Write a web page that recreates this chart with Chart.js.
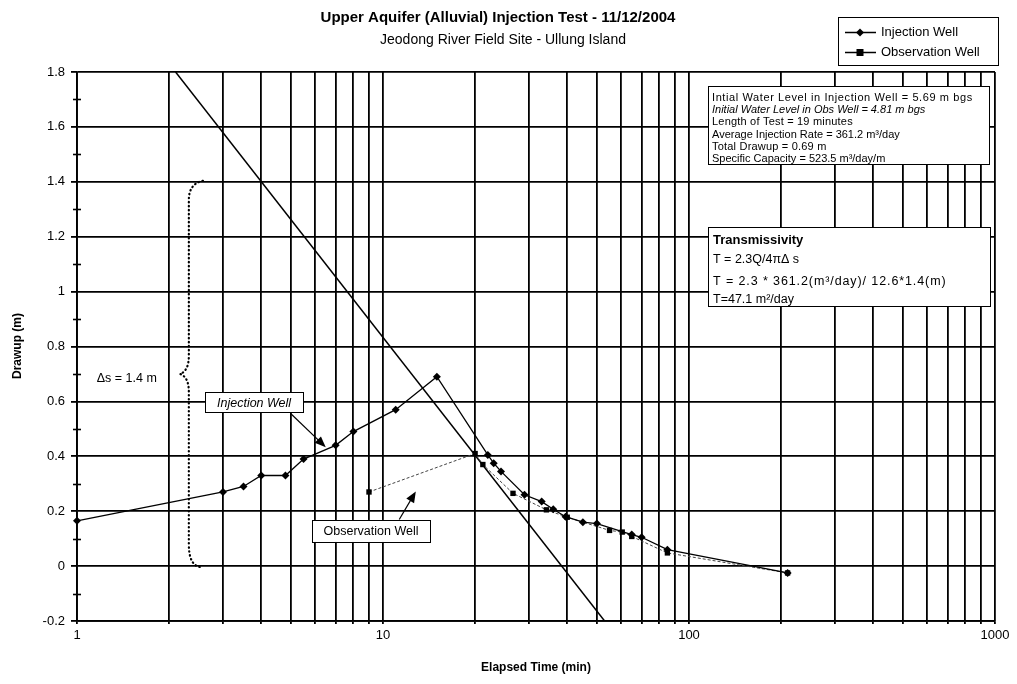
<!DOCTYPE html>
<html>
<head>
<meta charset="utf-8">
<title>Upper Aquifer (Alluvial) Injection Test</title>
<script src="https://cdn.jsdelivr.net/npm/chart.js@4.4.1/dist/chart.umd.min.js"></script>
<style>
  html, body { margin: 0; padding: 0; background: #fff; }
  #wrap { width: 1017px; height: 684px; }
</style>
</head>
<body>
<div id="wrap"><canvas id="chart" width="1017" height="684"></canvas></div>
<script>
// elapsed time (min) and drawup (m)
const injectionTime = [1, 3, 3.5, 4, 4.8, 5.5, 7, 8, 11, 15, 22, 23, 24.3, 29, 33, 36, 39.5, 45, 50, 65, 70, 85, 210];
const injectionDrawup = [0.165, 0.27, 0.29, 0.33, 0.33, 0.39, 0.44, 0.49, 0.57, 0.69, 0.405, 0.375, 0.345, 0.26, 0.235, 0.207, 0.18, 0.16, 0.155, 0.115, 0.105, 0.06, -0.025];
const observationTime = [9, 20, 21.2, 26.6, 34.2, 40, 55, 60.5, 65, 85, 210];
const observationDrawup = [0.27, 0.41, 0.37, 0.265, 0.205, 0.178, 0.13, 0.124, 0.108, 0.048, -0.025];

// straight line through the late data (delta s = 1.4 m per log cycle)
const fitTime = [2.1, 53];
const fitDrawup = [1.8, -0.2];

const xTickValues = [1, 2, 3, 4, 5, 6, 7, 8, 9, 10, 20, 30, 40, 50, 60, 70, 80, 90, 100, 200, 300, 400, 500, 600, 700, 800, 900, 1000];
const xTickLabels = { 1: '1', 10: '10', 100: '100', 1000: '1000' };
const yTickValues = [-0.2, 0, 0.2, 0.4, 0.6, 0.8, 1, 1.2, 1.4, 1.6, 1.8];
const yTickLabels = ['-0.2', '0', '0.2', '0.4', '0.6', '0.8', '1', '1.2', '1.4', '1.6', '1.8'];
const yMinorTicks = [-0.1, 0.1, 0.3, 0.5, 0.7, 0.9, 1.1, 1.3, 1.5, 1.7];

const infoLines = [
    'Intial Water Level in Injection Well = 5.69 m bgs',
    'Initial Water Level in Obs Well = 4.81 m bgs',
    'Length of Test = 19 minutes',
    'Average Injection Rate = 361.2 m\u00b3/day',
    'Total Drawup = 0.69 m',
    'Specific Capacity = 523.5 m\u00b3/day/m'
];
const transLines = [
    'Transmissivity',
    'T = 2.3Q/4\u03c0\u0394 s',
    'T = 2.3 * 361.2(m\u00b3/day)/ 12.6*1.4(m)',
    'T=47.1 m\u00b2/day'
];

const FONT = 'Arial, "Liberation Sans", sans-serif';

function toPoints(xs, ys) {
    return xs.map((x, i) => ({ x: x, y: ys[i] }));
}

function diamond(ctx, x, y, r) {
    ctx.beginPath();
    ctx.moveTo(x, y - r);
    ctx.lineTo(x + r, y);
    ctx.lineTo(x, y + r);
    ctx.lineTo(x - r, y);
    ctx.closePath();
    ctx.fill();
}

function arrow(ctx, x1, y1, x2, y2) {
    const a = Math.atan2(y2 - y1, x2 - x1);
    const len = 11, half = 4.5;
    ctx.beginPath();
    ctx.moveTo(x1, y1);
    ctx.lineTo(x2 - Math.cos(a) * len * 0.6, y2 - Math.sin(a) * len * 0.6);
    ctx.stroke();
    ctx.beginPath();
    ctx.moveTo(x2, y2);
    ctx.lineTo(x2 - Math.cos(a) * len - Math.sin(a) * half, y2 - Math.sin(a) * len + Math.cos(a) * half);
    ctx.lineTo(x2 - Math.cos(a) * len + Math.sin(a) * half, y2 - Math.sin(a) * len - Math.cos(a) * half);
    ctx.closePath();
    ctx.fill();
}

function spacedText(ctx, text, x, y, spacing) {
    ctx.save();
    ctx.letterSpacing = spacing + 'px';
    ctx.fillText(text, x, y);
    ctx.restore();
}

function labelBox(ctx, text, cx, cy, font, w, h) {
    ctx.fillStyle = '#fff';
    ctx.fillRect(cx - w / 2, cy - h / 2, w, h);
    ctx.strokeRect(Math.round(cx - w / 2) + 0.5, Math.round(cy - h / 2) + 0.5, w, h);
    ctx.fillStyle = '#000';
    ctx.font = font;
    ctx.textAlign = 'center';
    ctx.textBaseline = 'middle';
    ctx.fillText(text, cx, cy + 1);
}

const extras = {
    id: 'extras',
    afterDraw(chart) {
        const ctx = chart.ctx;
        const xs = chart.scales.x, ys = chart.scales.y;
        const px = v => xs.getPixelForValue(v);
        const py = v => ys.getPixelForValue(v);
        const area = chart.chartArea;
        ctx.save();
        ctx.strokeStyle = '#000';
        ctx.fillStyle = '#000';

        // minor ticks on the drawup axis
        ctx.lineWidth = 1.6;
        yMinorTicks.forEach(v => {
            const y = Math.round(py(v)) + 0.5;
            ctx.beginPath();
            ctx.moveTo(area.left - 4, y);
            ctx.lineTo(area.left + 4, y);
            ctx.stroke();
        });

        // titles
        ctx.textAlign = 'center';
        ctx.textBaseline = 'alphabetic';
        ctx.font = 'bold 15px ' + FONT;
        ctx.fillText('Upper Aquifer (Alluvial) Injection Test - 11/12/2004', 498, 22);
        ctx.font = '14px ' + FONT;
        ctx.fillText('Jeodong River Field Site - Ullung Island', 503, 44);

        ctx.font = 'bold 12px ' + FONT;
        ctx.fillText('Elapsed Time (min)', (area.left + area.right) / 2, 671);
        ctx.save();
        ctx.translate(21, 346);
        ctx.rotate(-Math.PI / 2);
        ctx.fillText('Drawup (m)', 0, 0);
        ctx.restore();

        // dotted brace for delta s
        const yTop = py(1.4), yBot = py(0), yMid = (yTop + yBot) / 2;
        const spine = px(2.32), tip = px(2.17);
        ctx.save();
        ctx.lineWidth = 2.2;
        ctx.lineCap = 'round';
        ctx.setLineDash([0.5, 3.5]);
        ctx.beginPath();
        ctx.moveTo(px(2.58), yTop - 1);
        ctx.quadraticCurveTo(spine, yTop + 2, spine, yTop + 18);
        ctx.lineTo(spine, yMid - 18);
        ctx.quadraticCurveTo(spine, yMid - 3, tip, yMid);
        ctx.quadraticCurveTo(spine, yMid + 3, spine, yMid + 18);
        ctx.lineTo(spine, yBot - 22);
        ctx.quadraticCurveTo(spine, yBot, px(2.54), yBot + 1);
        ctx.stroke();
        ctx.restore();

        ctx.font = '12.5px ' + FONT;
        ctx.textAlign = 'left';
        ctx.textBaseline = 'middle';
        ctx.fillText('\u0394s = 1.4 m', px(1.16), py(0.685));

        // callouts
        ctx.lineWidth = 1.2;
        arrow(ctx, px(5.0), py(0.555), px(6.5), py(0.433));
        arrow(ctx, px(11.3), py(0.17), px(12.8), py(0.272));
        ctx.lineWidth = 1;
        labelBox(ctx, 'Injection Well', px(3.79), py(0.597), 'italic 12.5px ' + FONT, 98, 20);
        labelBox(ctx, 'Observation Well', px(9.14), py(0.128), '12.5px ' + FONT, 118, 22);

        // info box
        ctx.lineWidth = 1;
        ctx.fillStyle = '#fff';
        ctx.fillRect(708, 86, 281, 78);
        ctx.strokeRect(708.5, 86.5, 281, 78);
        ctx.fillStyle = '#000';
        ctx.textAlign = 'left';
        ctx.textBaseline = 'alphabetic';
        const infoSpacing = [0.6, 0, 0.2, 0, 0.2, 0];
        infoLines.forEach((t, i) => {
            ctx.font = (i === 1 ? 'italic ' : '') + '11px ' + FONT;
            spacedText(ctx, t, 712, 101 + i * 12.2, infoSpacing[i]);
        });

        // transmissivity box
        ctx.fillStyle = '#fff';
        ctx.fillRect(708, 227, 282, 79);
        ctx.strokeRect(708.5, 227.5, 282, 79);
        ctx.fillStyle = '#000';
        const transY = [244, 263, 285, 303];
        const transSpacing = [0, 0, 0.9, 0];
        transLines.forEach((t, i) => {
            ctx.font = (i === 0 ? 'bold 13px ' : '12.5px ') + FONT;
            spacedText(ctx, t, 713, transY[i], transSpacing[i]);
        });

        // legend
        ctx.fillStyle = '#fff';
        ctx.fillRect(838, 17, 160, 48);
        ctx.strokeRect(838.5, 17.5, 160, 48);
        ctx.fillStyle = '#000';
        ctx.lineWidth = 1.3;
        ctx.beginPath();
        ctx.moveTo(845, 32.5);
        ctx.lineTo(876, 32.5);
        ctx.moveTo(845, 52.5);
        ctx.lineTo(876, 52.5);
        ctx.stroke();
        diamond(ctx, 860, 32.5, 4);
        ctx.fillRect(856.5, 49, 7, 7);
        ctx.font = '13px ' + FONT;
        ctx.textBaseline = 'middle';
        ctx.fillText('Injection Well', 881, 32);
        ctx.fillText('Observation Well', 881, 52);

        ctx.restore();
    }
};

new Chart(document.getElementById('chart'), {
    type: 'scatter',
    data: {
        datasets: [
            {
                label: 'Injection Well',
                data: toPoints(injectionTime, injectionDrawup),
                showLine: true,
                clip: false,
                borderColor: '#000',
                backgroundColor: '#000',
                borderWidth: 1.3,
                pointStyle: 'rectRot',
                pointRadius: 4,
                pointBorderWidth: 0
            },
            {
                label: 'Observation Well',
                data: toPoints(observationTime, observationDrawup),
                showLine: true,
                clip: false,
                borderColor: '#444',
                backgroundColor: '#000',
                borderWidth: 1,
                borderDash: [3, 2],
                pointStyle: 'rect',
                pointRadius: 3.8,
                pointBorderWidth: 0
            },
            {
                label: 'fit',
                data: toPoints(fitTime, fitDrawup),
                showLine: true,
                borderColor: '#000',
                borderWidth: 1.5,
                pointRadius: 0
            }
        ]
    },
    options: {
        responsive: false,
        animation: false,
        layout: { padding: { top: 72, left: 0, right: 22, bottom: 0 } },
        plugins: {
            legend: { display: false },
            title: { display: false },
            tooltip: { enabled: false }
        },
        scales: {
            x: {
                type: 'logarithmic',
                min: 1,
                max: 1000,
                afterBuildTicks: scale => { scale.ticks = xTickValues.map(v => ({ value: v })); },
                afterFit: scale => { scale.height = 63; },
                grid: { color: '#000', lineWidth: 1.8, tickLength: 3 },
                border: { color: '#000', width: 1.8 },
                ticks: {
                    autoSkip: false,
                    maxRotation: 0,
                    padding: 4,
                    color: '#000',
                    font: { family: FONT, size: 13 },
                    callback: v => xTickLabels[v] || ''
                }
            },
            y: {
                type: 'linear',
                min: -0.2,
                max: 1.8,
                afterBuildTicks: scale => { scale.ticks = yTickValues.map(v => ({ value: v })); },
                afterFit: scale => { scale.width = 77; },
                grid: { color: '#000', lineWidth: 1.8, tickLength: 6 },
                border: { color: '#000', width: 1.8 },
                ticks: {
                    padding: 6,
                    color: '#000',
                    font: { family: FONT, size: 13 },
                    callback: (v, i) => yTickLabels[i]
                }
            }
        }
    },
    plugins: [extras]
});
</script>
</body>
</html>
